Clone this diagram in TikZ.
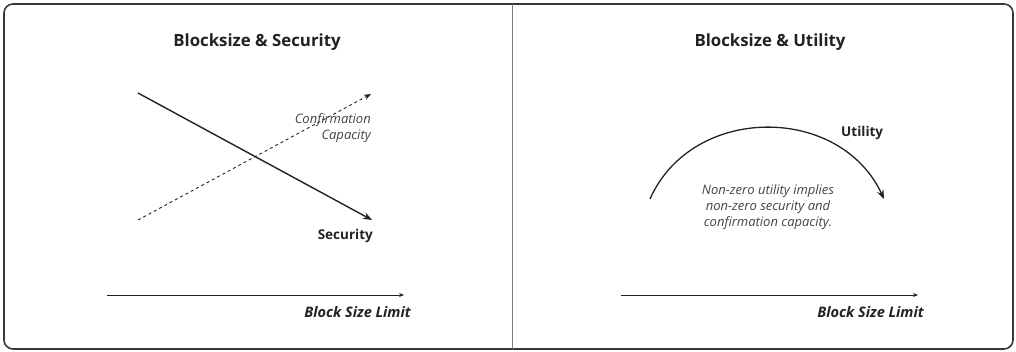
\documentclass[tikz,border=0pt]{standalone}
\usepackage{fontspec}
\setmainfont{Open Sans}
\usetikzlibrary{arrows.meta, positioning}
\definecolor{ink}{HTML}{222222}
\definecolor{note}{HTML}{444444}
\definecolor{rulegray}{HTML}{7A7A7A}

\begin{document}
\begin{tikzpicture}[
  x=1pt, y=-1pt,
  title/.style={font=\fontsize{16.8}{19}\selectfont\bfseries, text=ink, inner sep=0pt},
  lbl/.style={font=\fontsize{13.5}{16}\selectfont\bfseries, text=ink, inner sep=0pt},
  axlbl/.style={font=\fontsize{14.5}{16}\selectfont\bfseries\itshape, text=ink, inner sep=0pt},
  remark/.style={font=\fontsize{13}{16}\selectfont\itshape, text=note, inner sep=0pt},
  arr/.style={-{Stealth[length=9pt, width=7pt]}, line width=1.4pt, draw=ink},
  dasharr/.style={-{Stealth[length=7pt, width=5.5pt]}, line width=0.9pt, draw=ink, dash pattern=on 3pt off 3pt},
  axis/.style={-{Stealth[length=5pt, width=4pt]}, line width=0.9pt, draw=ink}
]
  \useasboundingbox (0,0) rectangle (1016,352);
  % frame and divider
  \draw[line width=1.6pt, draw=ink!90, rounded corners=9pt] (4,4) rectangle (1013,349);
  \draw[line width=0.9pt, draw=rulegray] (512,4) -- (512,349);

  % left panel
  \node[title] (sectitle) at (257,42) {Blocksize \& Security};
  \coordinate (secstart) at (138,93);
  \coordinate (secend) at (372,220);
  \coordinate (capstart) at (138,220);
  \coordinate (capend) at (371,94);
  \draw[dasharr] (capstart) -- (capend);
  \draw[arr] (secstart) -- (secend);
  \node[remark, align=right, anchor=east] (caplbl) at (371,128) {Confirmation\\Capacity};
  \node[lbl, anchor=east] (seclbl) at (373,236) {Security};
  \coordinate (laxstart) at (107,295);
  \coordinate (laxend) at (404,295);
  \draw[axis] (laxstart) -- (laxend);
  \node[axlbl, anchor=east] (laxlbl) at (411,312) {Block Size Limit};

  % right panel
  \node[title] (utiltitle) at (770,42) {Blocksize \& Utility};
  \coordinate (utilstart) at (650,199);
  \coordinate (utilend) at (884,199);
  \draw[arr, line width=1.3pt] (utilstart) .. controls (692,104) and (840,104) .. (utilend);
  \node[lbl, anchor=west] (utillbl) at (841,133) {Utility};
  \node[remark, align=center] (utilnote) at (768,207) {Non-zero utility implies\\non-zero security and\\confirmation capacity.};
  \coordinate (raxstart) at (621,295);
  \coordinate (raxend) at (918,295);
  \draw[axis] (raxstart) -- (raxend);
  \node[axlbl, anchor=east] (raxlbl) at (924,312) {Block Size Limit};
\end{tikzpicture}
\end{document}
